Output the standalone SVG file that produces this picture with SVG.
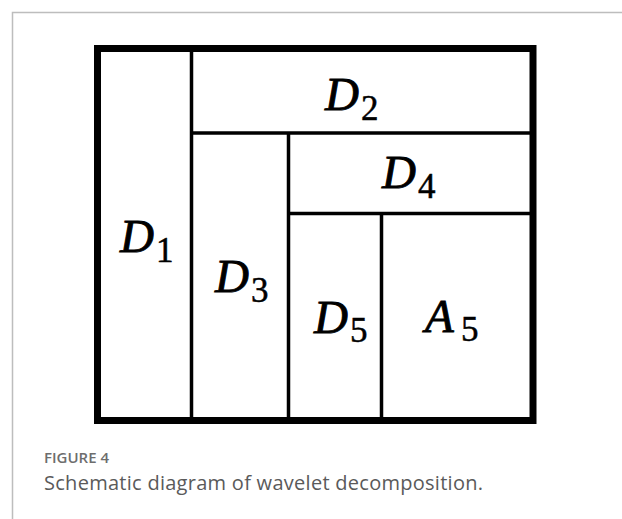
<svg xmlns="http://www.w3.org/2000/svg" width="622" height="519" viewBox="0 0 622 519">
<style>
.frame{stroke:#bdbdbd;stroke-width:1.5;fill:none}
.outer{stroke:#000;stroke-width:7;fill:#fff}
.inner{stroke:#000;stroke-width:3.5;fill:none}
.m{font-family:"Liberation Serif",serif;font-style:italic;font-size:47px;fill:#000;stroke:#000;stroke-width:0.9}
.s{font-family:"Liberation Serif",serif;font-size:35px;fill:#000;stroke:#000;stroke-width:0.5}
.fig{font-family:"Open Sans",sans-serif;font-weight:600;font-size:15px;fill:#6d6d6d}
.cap{font-family:"Open Sans",sans-serif;font-size:20px;fill:#5a5a5a}
</style>
<rect width="622" height="519" fill="#fff"/>
<path class="frame" d="M12.5,519 V12.5 H622"/>
<g id="box">
<rect class="outer" x="97.5" y="48.5" width="435.5" height="372"/>
</g>
<g id="connectors">
<line class="inner" x1="191.5" y1="48" x2="191.5" y2="420"/>
<line class="inner" x1="191.5" y1="133" x2="533" y2="133"/>
<line class="inner" x1="288.5" y1="133" x2="288.5" y2="420"/>
<line class="inner" x1="288.5" y1="213.5" x2="533" y2="213.5"/>
<line class="inner" x1="381.5" y1="213.5" x2="381.5" y2="420"/>
</g>
<g id="D1"><text class="m" x="120" y="252">D</text><text class="s" x="156" y="262">1</text></g>
<g id="D2"><text class="m" x="325" y="110">D</text><text class="s" x="361" y="120">2</text></g>
<g id="D3"><text class="m" x="215" y="292">D</text><text class="s" x="251" y="302">3</text></g>
<g id="D4"><text class="m" x="382" y="188">D</text><text class="s" x="418" y="198">4</text></g>
<g id="D5"><text class="m" x="314" y="333">D</text><text class="s" x="350" y="342">5</text></g>
<g id="A5"><text class="m" x="425" y="332">A</text><text class="s" x="461" y="341">5</text></g>
<g id="caption">
<text class="fig" x="44" y="463">FIGURE 4</text>
<text class="cap" x="44" y="490" textLength="439" lengthAdjust="spacing">Schematic diagram of wavelet decomposition.</text>
</g>
</svg>
